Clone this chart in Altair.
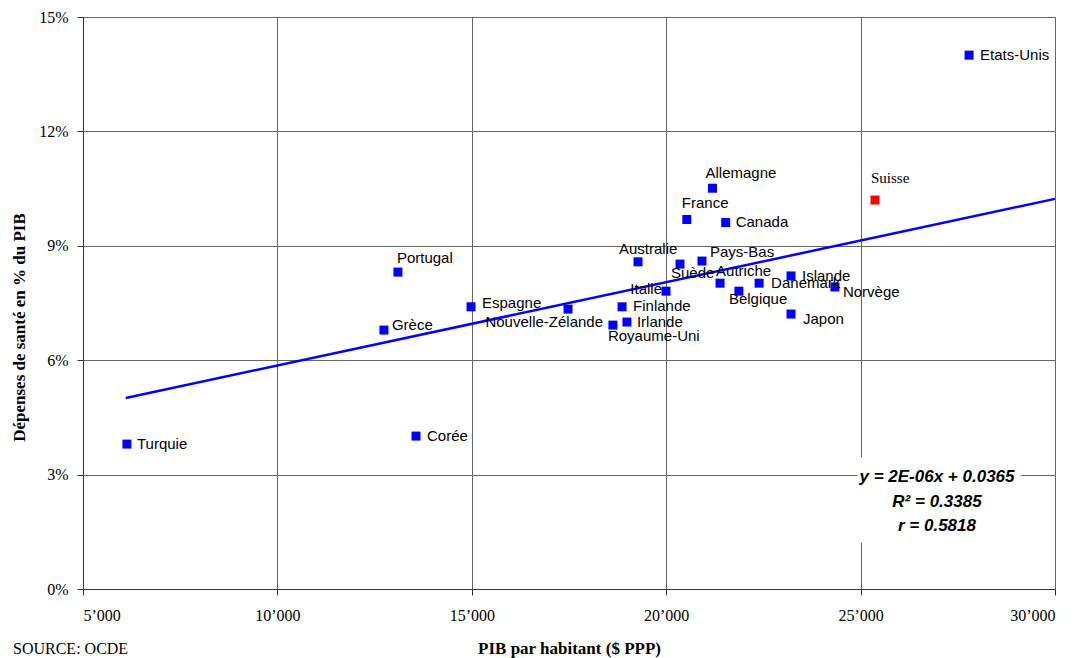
import altair as alt
import pandas as pd

# ---- data ----
countries = ["Etats-Unis", "Suisse", "Allemagne", "France", "Canada", "Australie",
             "Pays-Bas", "Suède", "Autriche", "Islande", "Danemark", "Norvège",
             "Italie", "Belgique", "Finlande", "Irlande", "Royaume-Uni", "Japon",
             "Nouvelle-Zélande", "Espagne", "Portugal", "Grèce", "Corée", "Turquie"]
gdp_per_capita = [27790, 25370, 21190, 20530, 21530, 19275,
                  20920, 20355, 21385, 23210, 22390, 24340,
                  19995, 21870, 18865, 18990, 18630, 23210,
                  17475, 14980, 13100, 12740, 13565, 6130]
health_share = [0.1400, 0.1020, 0.1051, 0.0969, 0.0961, 0.0858,
                0.0860, 0.0852, 0.0802, 0.0821, 0.0802, 0.0792,
                0.0781, 0.0781, 0.0740, 0.0700, 0.0692, 0.0721,
                0.0734, 0.0740, 0.0831, 0.0679, 0.0401, 0.0380]
highlight = ["Suisse"]

trend_gdp = [6100, 30000]
trend_share = [0.0501, 0.1023]

eq_lines = ["y = 2E-06x + 0.0365", "R² = 0.3385", "r = 0.5818"]

x_ticks = [5000, 10000, 15000, 20000, 25000, 30000]
y_ticks = [0.0, 0.03, 0.06, 0.09, 0.12, 0.15]

# ---- tables ----
df = pd.DataFrame({
    "pays": countries,
    "pib": gdp_per_capita,
    "sante": health_share,
    "groupe": ["Suisse" if c in highlight else "OCDE" for c in countries],
})
trend = pd.DataFrame({"pib": trend_gdp, "sante": trend_share})

# label placement (style): dx, dy, align
label_style = {
    "Etats-Unis": (11, 0, "left"), "Suisse": (-4, -22, "left"),
    "Allemagne": (-7, -15, "left"), "France": (-5, -16, "left"),
    "Canada": (10, -1, "left"), "Australie": (-19, -13, "left"),
    "Pays-Bas": (8, -9, "left"), "Suède": (-9, 9, "left"),
    "Autriche": (-4, -12, "left"), "Islande": (11, 0, "left"),
    "Danemark": (12, 0, "left"), "Norvège": (8, 5, "left"),
    "Italie": (-4, -2, "right"), "Belgique": (-10, 8, "left"),
    "Finlande": (11, -1, "left"), "Irlande": (10, 0, "left"),
    "Royaume-Uni": (-5, 11, "left"), "Japon": (12, 5, "left"),
    "Nouvelle-Zélande": (35, 13, "right"), "Espagne": (11, -4, "left"),
    "Portugal": (-1, -14, "left"), "Grèce": (8, -5, "left"),
    "Corée": (11, 0, "left"), "Turquie": (10, 0, "left"),
}

xscale = alt.Scale(domain=[5000, 30000], nice=False, zero=False)
yscale = alt.Scale(domain=[0, 0.15], nice=False)

x_axis = alt.Axis(
    values=x_ticks, title="PIB par habitant ($ PPP)",
    labelExpr="replace(format(datum.value, ','), ',', '’')",
    labelFont="Liberation Serif", labelFontSize=16, labelColor="#000",
    labelPadding=12, tickSize=6, tickColor="#333", domainColor="#333",
    gridColor="#666", grid=True,
    titleFont="Liberation Serif", titleFontSize=17, titleFontWeight="bold",
    titleColor="#000", titleBaseline="alphabetic", titleY=64,
)
y_axis = alt.Axis(
    values=y_ticks, format=".0%", title="Dépenses de santé en % du PIB",
    labelFont="Liberation Serif", labelFontSize=16, labelColor="#000",
    labelPadding=9, tickSize=6, tickColor="#333", domainColor="#333",
    gridColor="#666", grid=True,
    titleFont="Liberation Serif", titleFontSize=17, titleFontWeight="bold",
    titleColor="#000", titleBaseline="alphabetic", titleAngle=270,
    titleAlign="center", titleX=-59, titleY=310,
)

base = alt.Chart(df)

points = base.mark_square(size=81, opacity=1).encode(
    x=alt.X("pib:Q", scale=xscale, axis=x_axis),
    y=alt.Y("sante:Q", scale=yscale, axis=y_axis),
    color=alt.Color("groupe:N", scale=alt.Scale(domain=["OCDE", "Suisse"],
                                                range=["#0000ff", "#ff0000"]),
                    legend=None),
)

line = alt.Chart(trend).mark_line(color="#0000ff", strokeWidth=2.5).encode(
    x=alt.X("pib:Q", scale=xscale),
    y=alt.Y("sante:Q", scale=yscale),
)

labels = []
for name in countries:
    dx, dy, align = label_style[name]
    if name in highlight:
        font, size = "Liberation Serif", 15
    else:
        font, size = "Liberation Sans", 15
    labels.append(
        base.transform_filter(alt.datum.pays == name).mark_text(
            dx=dx, dy=dy, align=align, baseline="middle",
            font=font, fontSize=size, color="#000",
        ).encode(
            x=alt.X("pib:Q", scale=xscale),
            y=alt.Y("sante:Q", scale=yscale),
            text="pays:N",
        )
    )

box_df = pd.DataFrame({"x1": [24910], "x2": [29125], "y1": [0.0121], "y2": [0.0346]})
box = alt.Chart(box_df).mark_rect(color="white", opacity=1).encode(
    x=alt.X("x1:Q", scale=xscale), x2="x2:Q",
    y=alt.Y("y1:Q", scale=yscale), y2="y2:Q",
)

eq_df = pd.DataFrame({"t": eq_lines, "x": [26965] * 3, "y": [0.0294, 0.0228, 0.0165]})
eq = alt.Chart(eq_df).mark_text(
    font="Liberation Sans", fontSize=17, fontWeight="bold", fontStyle="italic",
    color="#000", align="center", baseline="middle",
).encode(
    x=alt.X("x:Q", scale=xscale), y=alt.Y("y:Q", scale=yscale), text="t:N",
)

source = alt.Chart(pd.DataFrame({"t": ["SOURCE: OCDE"]})).mark_text(
    font="Liberation Serif", fontSize=16, color="#000",
    align="left", baseline="alphabetic",
).encode(x=alt.value(-70), y=alt.value(637), text="t:N")

chart = alt.layer(line, points, *labels, box, eq, source).properties(
    width=972, height=572,
    autosize=alt.AutoSizeParams(type="none"),
    padding={"left": 75, "top": 9, "right": 19, "bottom": 69},
).configure_view(stroke=None).configure(background="white")

chart.save("out.html", embed_options={"renderer": "svg", "actions": False})
